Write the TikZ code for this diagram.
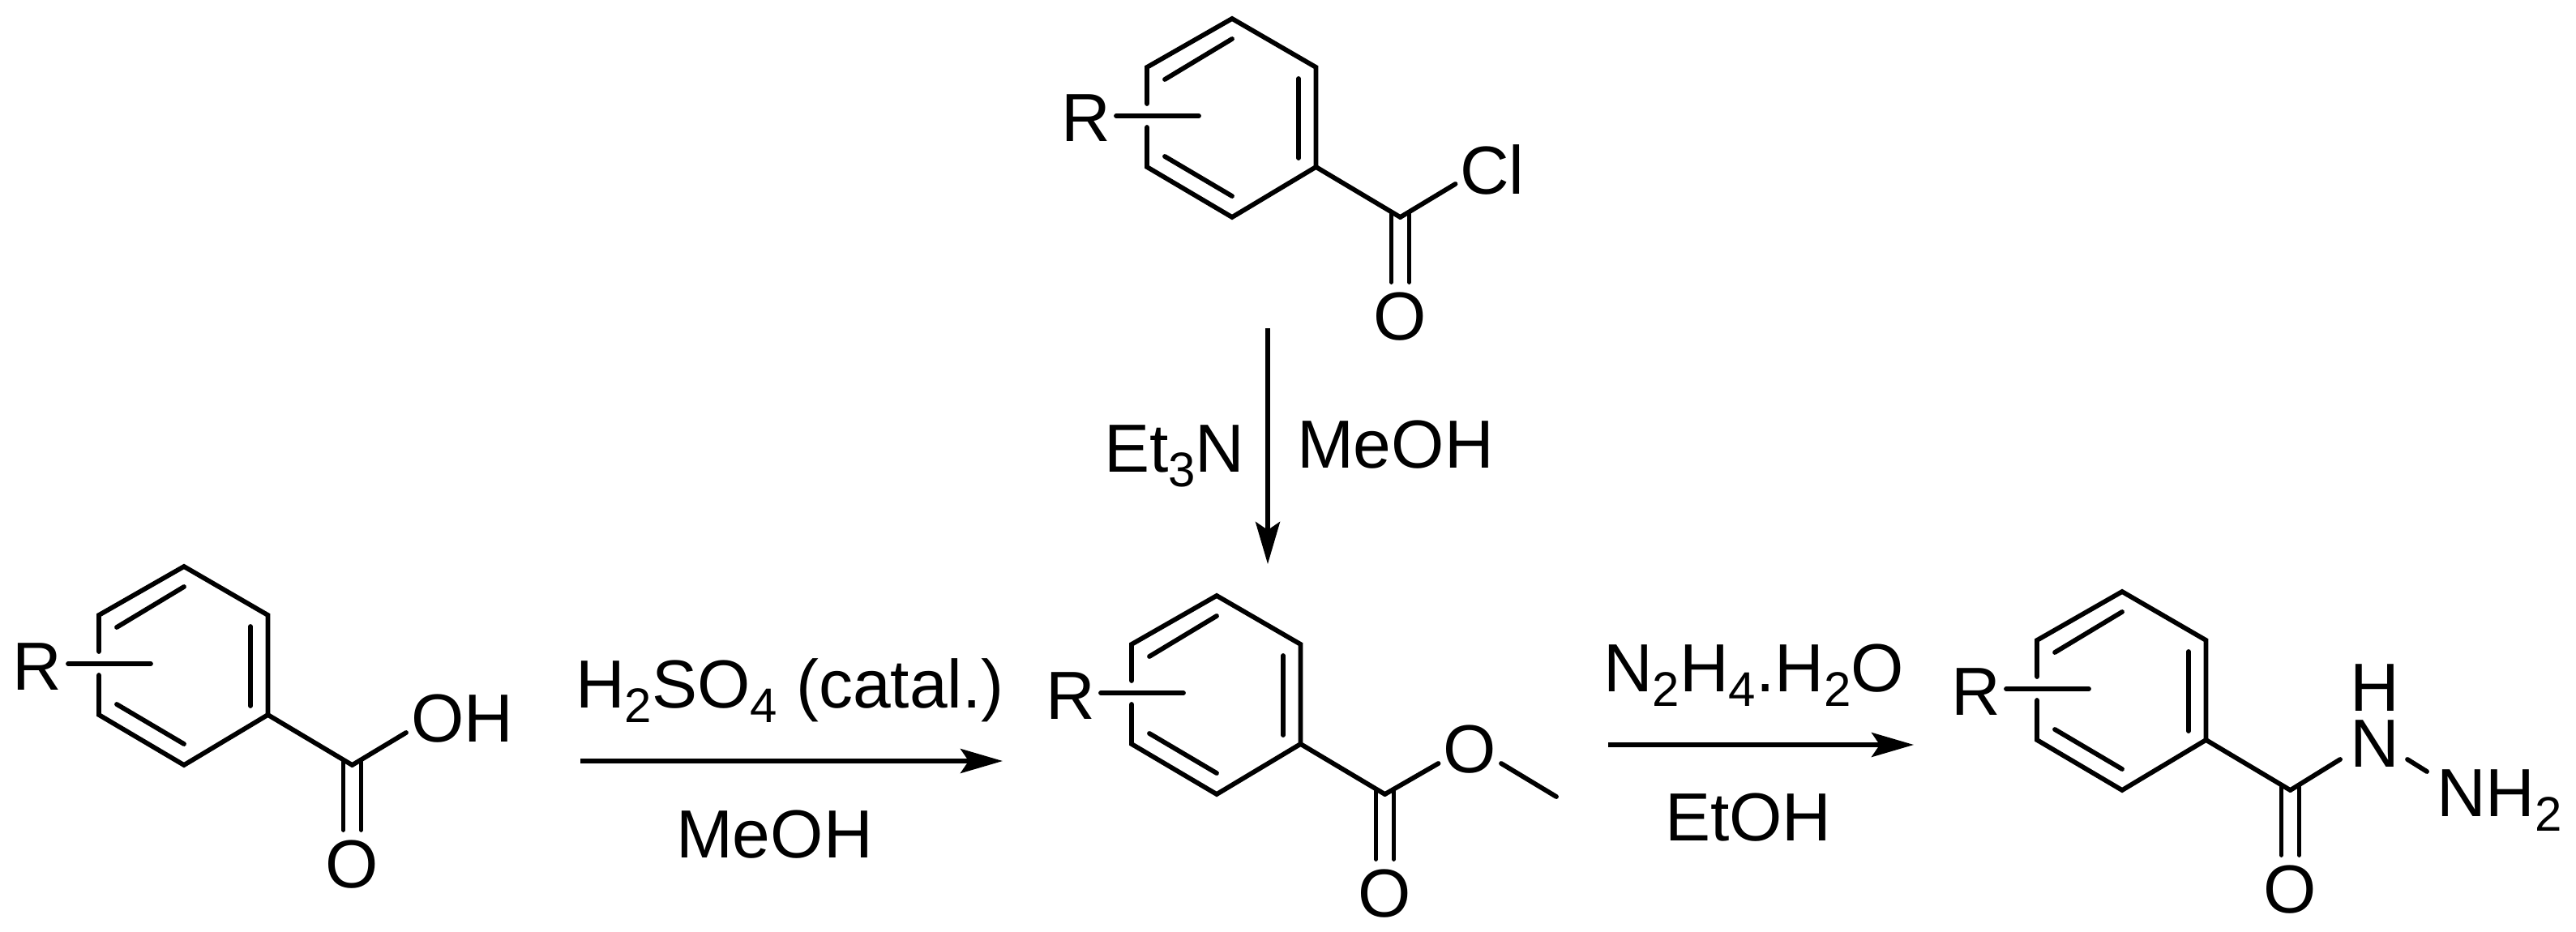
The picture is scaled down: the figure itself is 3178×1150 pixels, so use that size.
\documentclass[tikz,border=0pt]{standalone}
\usepackage{fontspec}
\setmainfont{Liberation Sans}
\usetikzlibrary{arrows.meta}
\tikzset{
  bond/.style={line width=2.9pt,line cap=round,line join=miter},
  atom/.style={inner sep=0pt,outer sep=0pt,font=\fontsize{42}{42}\selectfont},
  rxnarrow/.style={line width=2.7pt,-{Stealth[length=26pt,width=15pt,inset=5pt]}},
}
\newcommand{\mysub}[1]{\raisebox{-0.22em}{\fontsize{30}{30}\selectfont #1}}
\newcommand{\benzoyl}[3]{%
  \begin{scope}[shift={(#2,#3)}]
    \coordinate (#1top) at (0,0);
    \coordinate (#1ul) at (-105,60);
    \coordinate (#1ll) at (-105,183);
    \coordinate (#1bot) at (0,245);
    \coordinate (#1lr) at (103.5,183);
    \coordinate (#1ur) at (103.5,60);
    \coordinate (#1gapa) at (-105,105);
    \coordinate (#1gapb) at (-105,134);
    \coordinate (#1C) at (207.5,245);
    \coordinate (#1ra) at (-143,120);
    \coordinate (#1rb) at (-41,120);
    \coordinate (#1ia) at (-83,75);
    \coordinate (#1ib) at (0,25);
    \coordinate (#1ic) at (82,74);
    \coordinate (#1id) at (82,172);
    \coordinate (#1ie) at (-83,170);
    \coordinate (#1if) at (0,219);
    \coordinate (#1da) at (196.5,239);
    \coordinate (#1db) at (196.5,325);
    \coordinate (#1dc) at (218.5,239);
    \coordinate (#1dd) at (218.5,325);
    \node[atom,anchor=base west] (#1R) at (-211,152) {R};
    \node[atom,anchor=base] (#1O) at (207.5,396) {O};
    \draw[bond] (#1gapa) -- (#1ul) -- (#1top) -- (#1ur) -- (#1lr) -- (#1bot) -- (#1ll) -- (#1gapb);
    \draw[bond] (#1ra) -- (#1rb);
    \draw[bond] (#1ia) -- (#1ib);
    \draw[bond] (#1ic) -- (#1id);
    \draw[bond] (#1ie) -- (#1if);
    \draw[bond] (#1lr) -- (#1C);
    \draw[bond] (#1da) -- (#1db);
    \draw[bond] (#1dc) -- (#1dd);
  \end{scope}}
\begin{document}
\begin{tikzpicture}[x=0.5pt,y=-0.5pt]
\useasboundingbox (0,0) rectangle (3178,1150);
% acid chloride
\benzoyl{a}{1520}{23}
\node[atom,anchor=base west] (cl) at (1801,240) {Cl};
\coordinate (aend) at (1795.5,227);
\draw[bond] (aC) -- (aend);
% acid
\benzoyl{b}{227}{699}
\node[atom,anchor=base west] (oh) at (507,915) {OH};
\coordinate (bend) at (501,904);
\draw[bond] (bC) -- (bend);
% ester
\benzoyl{c}{1501}{735}
\node[atom,anchor=base] (ome) at (1813,953) {O};
\coordinate (cend) at (1774.5,942);
\coordinate (mea) at (1852,942);
\coordinate (meb) at (1920,983);
\draw[bond] (cC) -- (cend);
\draw[bond] (mea) -- (meb);
% hydrazide
\benzoyl{d}{2618}{730}
\node[atom,anchor=base] (hh) at (2930,877) {H};
\node[atom,anchor=base] (nh) at (2930,946) {N};
\node[atom,anchor=base west] (nh2) at (3006,1007) {NH\mysub{2}};
\coordinate (dend) at (2887,937);
\coordinate (nna) at (2970,937);
\coordinate (nnb) at (2994,952);
\draw[bond] (dC) -- (dend);
\draw[bond] (nna) -- (nnb);
% arrows
\coordinate (v1) at (1564,405);
\coordinate (v2) at (1564,696);
\draw[rxnarrow] (v1) -- (v2);
\coordinate (h1) at (716,939);
\coordinate (h2) at (1237,939);
\draw[rxnarrow] (h1) -- (h2);
\coordinate (k1) at (1984,919);
\coordinate (k2) at (2361,919);
\draw[rxnarrow] (k1) -- (k2);
% reagents
\node[atom,anchor=base west] (et3n) at (1362,582) {Et\mysub{3}N};
\node[atom,anchor=base west] (meoha) at (1600,577) {MeOH};
\node[atom,anchor=base west] (h2so4) at (710,873) {H\mysub{2}SO\mysub{4} (catal.)};
\node[atom,anchor=base west] (meohb) at (834,1058) {MeOH};
\node[atom,anchor=base west] (n2h4) at (1978,853) {N\mysub{2}H\mysub{4}.H\mysub{2}O};
\node[atom,anchor=base west] (etoh) at (2054,1037) {EtOH};
\end{tikzpicture}
\end{document}
